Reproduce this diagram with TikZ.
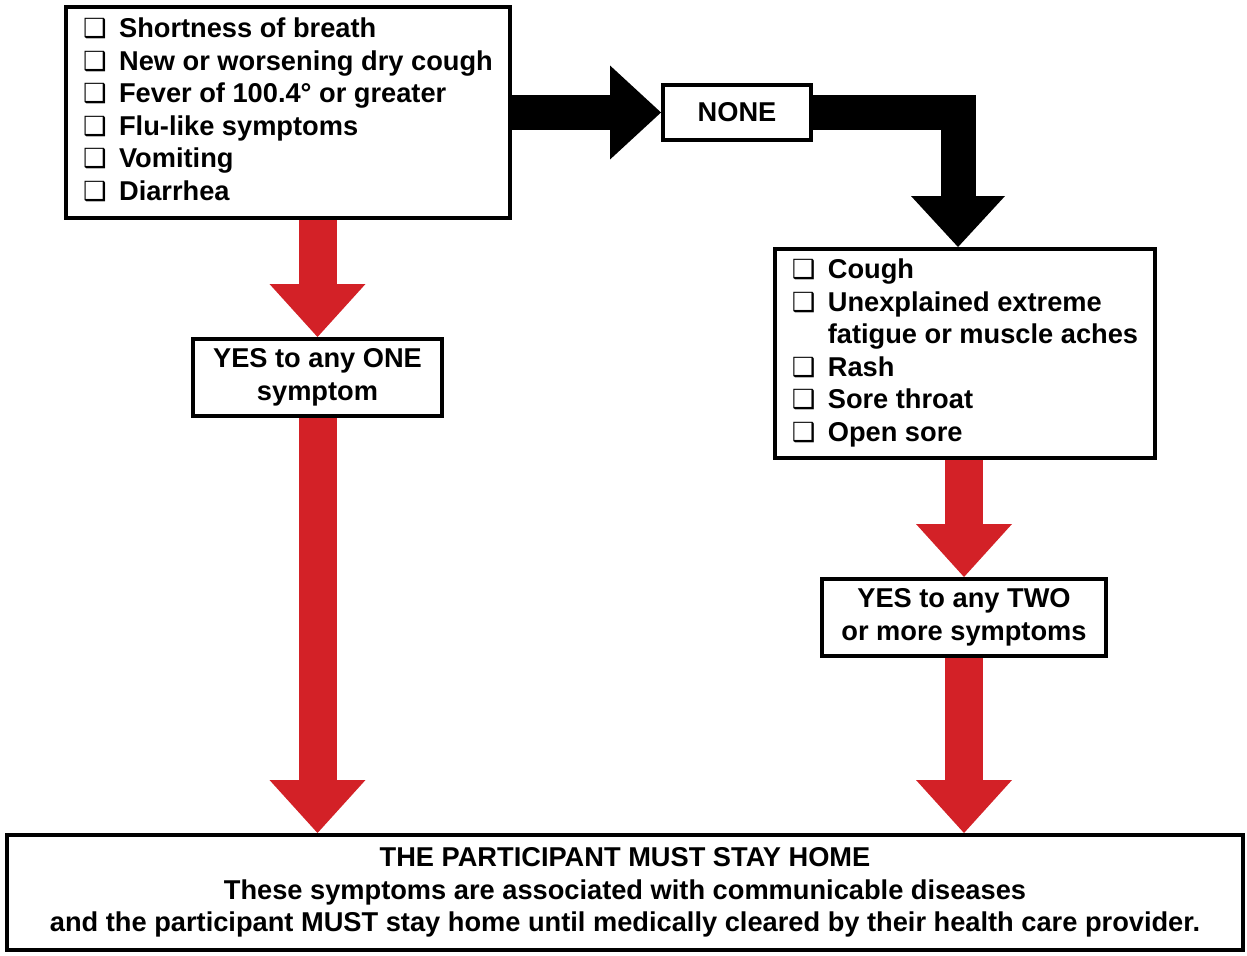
\documentclass[tikz,border=0pt]{standalone}
\usepackage{fontspec}
\setmainfont{Liberation Sans}
\newfontfamily\boxfont{DejaVu Sans}
\usepackage{tikz}
\usetikzlibrary{arrows.meta,backgrounds}
\definecolor{arrowred}{RGB}{211,33,39}
\newcommand{\chk}{{\boxfont\fontsize{15}{15}\selectfont\symbol{"2751}}}

\begin{document}
\begin{tikzpicture}[x=0.02cm,y=-0.02cm,
  box/.style={draw, line width=0.08cm, fill=white, inner sep=0pt, align=center,
    font=\bfseries\fontsize{15.5}{18.5}\selectfont},
  redarrow/.style={arrowred, line width=0.76cm,
    -{Triangle[width=1.92cm,length=1.06cm,line width=0pt]}},
  blackarrow/.style={black, line width=0.7cm,
    -{Triangle[width=1.88cm,length=1.02cm,line width=0pt]}}]
\useasboundingbox (0,0) rectangle (1247,956);
\node [box, minimum width=8.88cm, minimum height=4.22cm] (signs) at (288,112.5) {
\begin{tabular}{@{}l@{\hspace{7pt}}l@{}}
\chk & Shortness of breath\\
\chk & New or worsening dry cough\\
\chk & Fever of 100.4° or greater\\
\chk & Flu-like symptoms\\
\chk & Vomiting\\
\chk & Diarrhea
\end{tabular}};
\node [box, minimum width=2.96cm, minimum height=1.10cm] (none) at (737,112.5) {NONE};
\node [box, minimum width=4.98cm, minimum height=1.54cm] (yesone) at (317.5,377.5)
  {YES to any ONE\\ symptom};
\node [box, minimum width=7.60cm, minimum height=4.18cm] (others) at (965,353.5) {
\begin{tabular}{@{}l@{\hspace{7pt}}l@{}}
\chk & Cough\\
\chk & Unexplained extreme\\
 & fatigue or muscle aches\\
\chk & Rash\\
\chk & Sore throat\\
\chk & Open sore
\end{tabular}};
\node [box, minimum width=5.68cm, minimum height=1.54cm] (yestwo) at (964,617.5)
  {YES to any TWO\\ or more symptoms};
\node [box, minimum width=24.72cm, minimum height=2.30cm] (home) at (625,892.5)
  {THE PARTICIPANT MUST STAY HOME\\
  These symptoms are associated with communicable diseases\\
  and the participant MUST stay home until medically cleared by their health care provider.};
\begin{scope}[on background layer]
\draw [blackarrow] (signs.east) -- (none.west);
\draw [blackarrow] (none.east) -| ([xshift=-0.14cm]others.north);
\draw [redarrow] (signs.south -| yesone.north) -- (yesone.north);
\draw [redarrow] (yesone.south) -- (yesone.south |- home.north);
\draw [redarrow] (others.south -| yestwo.north) -- (yestwo.north);
\draw [redarrow] (yestwo.south) -- (yestwo.south |- home.north);
\end{scope}
\end{tikzpicture}
\end{document}
